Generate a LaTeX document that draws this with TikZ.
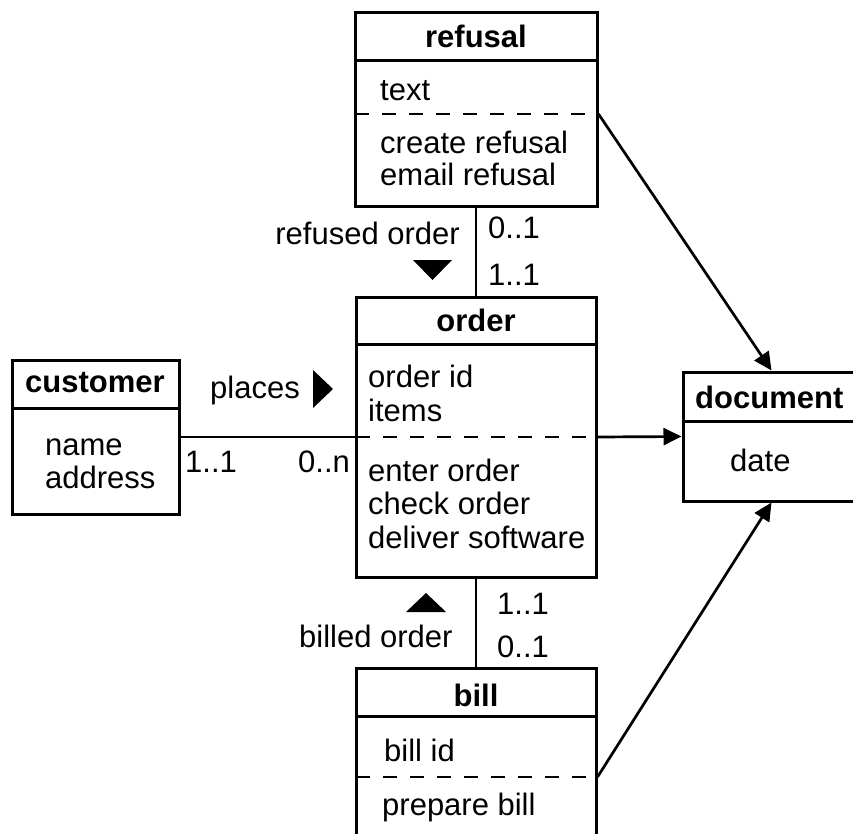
\documentclass[tikz,border=0pt]{standalone}
\usepackage{fontspec}
\setmainfont{Liberation Sans}
\usetikzlibrary{arrows.meta,calc}
\begin{document}
\begin{tikzpicture}[x=1pt,y=-1pt,
  box/.style={draw,line width=3pt,rectangle,inner sep=0pt},
  sepline/.style={line width=3pt},
  dsep/.style={line width=2.5pt,dash pattern=on 14pt off 13pt},
  conn/.style={line width=2.7pt},
  arr/.style={conn,-{Triangle[length=18pt,width=17pt]}},
  txt/.style={anchor=base west,inner sep=0pt,font=\fontsize{31}{34}\selectfont},
  rtxt/.style={anchor=base east,inner sep=0pt,font=\fontsize{31}{34}\selectfont},
  ttl/.style={anchor=base,inner sep=0pt,font=\fontsize{31}{34}\selectfont\bfseries},
  tri/.style={fill=black}
]
\clip (0,0) rectangle (853,834);
\fill[white] (0,0) rectangle (853,834);

% boxes
\node[box,minimum width=242pt,minimum height=194pt] (refusal) at (476,110) {};
\node[box,minimum width=240pt,minimum height=280pt] (order) at (476,437) {};
\node[box,minimum width=167pt,minimum height=154pt] (customer) at (95.5,437) {};
\node[box,minimum width=177pt,minimum height=129pt] (document) at (771.5,436.5) {};
\node[box,minimum width=240pt,minimum height=190pt] (bill) at (476,763) {};

% compartment separators
\draw[sepline] ($(refusal.north west)+(1.5,49.5)$) -- ($(refusal.north east)+(-1.5,49.5)$);
\draw[sepline] ($(order.north west)+(1.5,48.5)$) -- ($(order.north east)+(-1.5,48.5)$);
\draw[sepline] ($(customer.north west)+(1.5,49.5)$) -- ($(customer.north east)+(-1.5,49.5)$);
\draw[sepline] ($(document.north west)+(1.5,50.5)$) -- ($(document.north east)+(-1.5,50.5)$);
\draw[sepline] ($(bill.north west)+(1.5,49.5)$) -- ($(bill.north east)+(-1.5,49.5)$);

\coordinate (refdashW) at ($(refusal.north west)+(1.5,102.5)$);
\coordinate (refdash) at ($(refusal.north east)+(0,102.5)$);
\coordinate (billdashW) at ($(bill.north west)+(1.5,110.5)$);
\coordinate (billdash) at ($(bill.north east)+(0,110.5)$);
\draw[dsep] (refdashW) -- (refdash);
\draw[dsep] ($(order.west)+(1.5,0)$) -- (order.east);
\draw[dsep] (billdashW) -- (billdash);

% texts
\node[ttl] (tRefusal) at (476,48) {refusal};
\node[txt] (aRef1) at (380,101) {text};
\node[txt] (mRef1) at (380,154) {create refusal};
\node[txt] (mRef2) at (380,186) {email refusal};

\node[ttl] (tOrder) at (476,331) {order};
\node[txt] (aOrd1) at (368,387) {order id};
\node[txt] (aOrd2) at (368,421) {items};
\node[txt] (mOrd1) at (368,481) {enter order};
\node[txt] (mOrd2) at (368,514) {check order};
\node[txt] (mOrd3) at (368,548) {deliver software};

\node[ttl] (tCustomer) at (95,392) {customer};
\node[txt] (aCus1) at (45,455) {name};
\node[txt] (aCus2) at (45,488) {address};

\node[txt,font=\fontsize{31}{34}\selectfont\bfseries] (tDocument) at (695,408) {document};
\node[txt] (aDoc1) at (730,471) {date};

\node[ttl] (tBill) at (476,706) {bill};
\node[txt] (aBill1) at (384,761) {bill id};
\node[txt] (mBill1) at (382,815) {prepare bill};

% connectors
\draw[conn] (refusal.south) -- (order.north);
\draw[conn] (order.south) -- (bill.north);
\draw[conn] (customer.east) -- (order.west);
\draw[arr] (order.east) -- (document.west);
\draw[arr] (refdash) -- (document.north);
\draw[arr] (billdash) -- (document.south);

% association labels
\node[rtxt] (lRefused) at (460,244) {refused order};
\node[txt] (mRefA) at (488,238) {0..1};
\node[txt] (mRefB) at (488,285) {1..1};
\fill[tri] (413,260) -- (452,260) -- (432.5,280) -- cycle;

\node[txt] (lPlaces) at (210,398) {places};
\fill[tri] (313,370) -- (313,408) -- (333,389) -- cycle;
\node[txt] (mCusA) at (185,472) {1..1};
\node[txt] (mCusB) at (298,472) {0..n};

\node[txt] (lBilled) at (299,647) {billed order};
\fill[tri] (406,612) -- (446,612) -- (426,593) -- cycle;
\node[txt] (mBillA) at (497,614) {1..1};
\node[txt] (mBillB) at (497,657) {0..1};
\end{tikzpicture}
\end{document}
